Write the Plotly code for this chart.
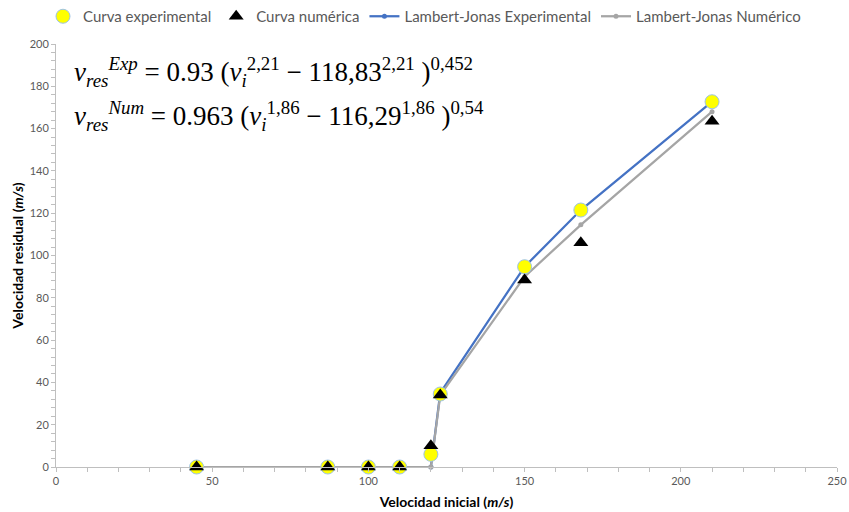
import plotly.graph_objects as go

# Data
vi = [45, 87, 100, 110, 120, 123, 150, 168, 210]
exp_curve = [0, 0, 0, 0, 6, 34.5, 94.7, 121.5, 172.7]
num_x = [45, 87, 100, 110, 120, 123, 150, 168, 210]
num_curve = [0, 0, 0, 0, 10, 34, 88.4, 106, 163.5]
lj_exp = [0, 0, 0, 0, 0, 35, 94.7, 121.5, 172.7]
lj_num = [0, 0, 0, 0, 0, 34, 90, 114.5, 168]

x_ticks = [0, 50, 100, 150, 200, 250]
y_ticks = [0, 20, 40, 60, 80, 100, 120, 140, 160, 180, 200]

TXT = "#595959"
AX = "#BFBFBF"

fig = go.Figure()
fig.add_trace(go.Scatter(
    x=vi, y=lj_exp, mode="lines+markers", name="Lambert-Jonas Experimental",
    cliponaxis=False, legendrank=3,
    line=dict(color="#4472C4", width=2.25),
    marker=dict(symbol="circle", size=5, color="#4472C4")))
fig.add_trace(go.Scatter(
    x=vi, y=lj_num, mode="lines+markers", name="Lambert-Jonas Numérico",
    cliponaxis=False, legendrank=4,
    line=dict(color="#A5A5A5", width=2.25),
    marker=dict(symbol="circle", size=5, color="#A5A5A5")))
fig.add_trace(go.Scatter(
    x=vi, y=exp_curve, mode="markers", name="Curva experimental",
    cliponaxis=False, legendrank=1,
    marker=dict(symbol="circle", size=14, color="#FFFF00",
                line=dict(color="#9DC3E6", width=1))))
fig.add_trace(go.Scatter(
    x=num_x, y=num_curve, mode="markers", name="Curva numérica",
    cliponaxis=False, legendrank=2,
    marker=dict(symbol="triangle-up", size=13, color="#000000",
                line=dict(width=0))))

eq_font = dict(family="Liberation Serif, DejaVu Serif, serif", size=27, color="#000000")
fig.add_annotation(
    x=5, y=187, xref="x", yref="y", xanchor="left", yanchor="middle", showarrow=False,
    text="<i>v</i><sub><i>res</i></sub><sup><i>Exp</i></sup> = 0.93 (<i>v</i><sub><i>i</i></sub><sup>2,21</sup> − 118,83<sup>2,21</sup> )<sup>0,452</sup>",
    font=eq_font)
fig.add_annotation(
    x=5, y=166, xref="x", yref="y", xanchor="left", yanchor="middle", showarrow=False,
    text="<i>v</i><sub><i>res</i></sub><sup><i>Num</i></sup> = 0.963 (<i>v</i><sub><i>i</i></sub><sup>1,86</sup> − 116,29<sup>1,86</sup> )<sup>0,54</sup>",
    font=eq_font)

fig.update_layout(
    width=849, height=512,
    paper_bgcolor="white", plot_bgcolor="white",
    margin=dict(l=56, r=12, t=44, b=45, autoexpand=False),
    font=dict(family="Lato, Roboto, sans-serif", color=TXT, size=11),
    showlegend=True,
    legend=dict(orientation="h", x=0.5, xanchor="center", y=1.0, yanchor="top",
                yref="container", xref="container", font=dict(size=15, color=TXT),
                itemwidth=30, tracegroupgap=0, traceorder="normal",
                bgcolor="rgba(0,0,0,0)"),
    xaxis=dict(range=[0, 250], tickvals=x_ticks, showgrid=False, zeroline=False,
               showline=True, linecolor=AX, linewidth=1, automargin=False,
               ticks="outside", ticklen=4, tickcolor=AX,
               minor=dict(dtick=10, ticks="outside", ticklen=4, tickcolor=AX),
               tickfont=dict(size=11, color=TXT),
               title=dict(text="<b>Velocidad inicial (<i>m/s</i>)</b>",
                          font=dict(size=14, color="#000000"), standoff=10)),
    yaxis=dict(range=[0, 200], tickvals=y_ticks, showgrid=False, zeroline=False,
               showline=True, linecolor=AX, linewidth=1, automargin=False,
               ticks="outside", ticklen=4, tickcolor=AX,
               minor=dict(dtick=4, ticks="outside", ticklen=4, tickcolor=AX),
               tickfont=dict(size=11, color=TXT),
               title=dict(text="<b>Velocidad residual (<i>m/s</i>)</b>",
                          font=dict(size=14, color="#000000"), standoff=2)),
)

fig.write_html("out.html", config={"displayModeBar": False},
               post_script="document.body.style.margin='0';document.body.style.overflow='hidden';")
